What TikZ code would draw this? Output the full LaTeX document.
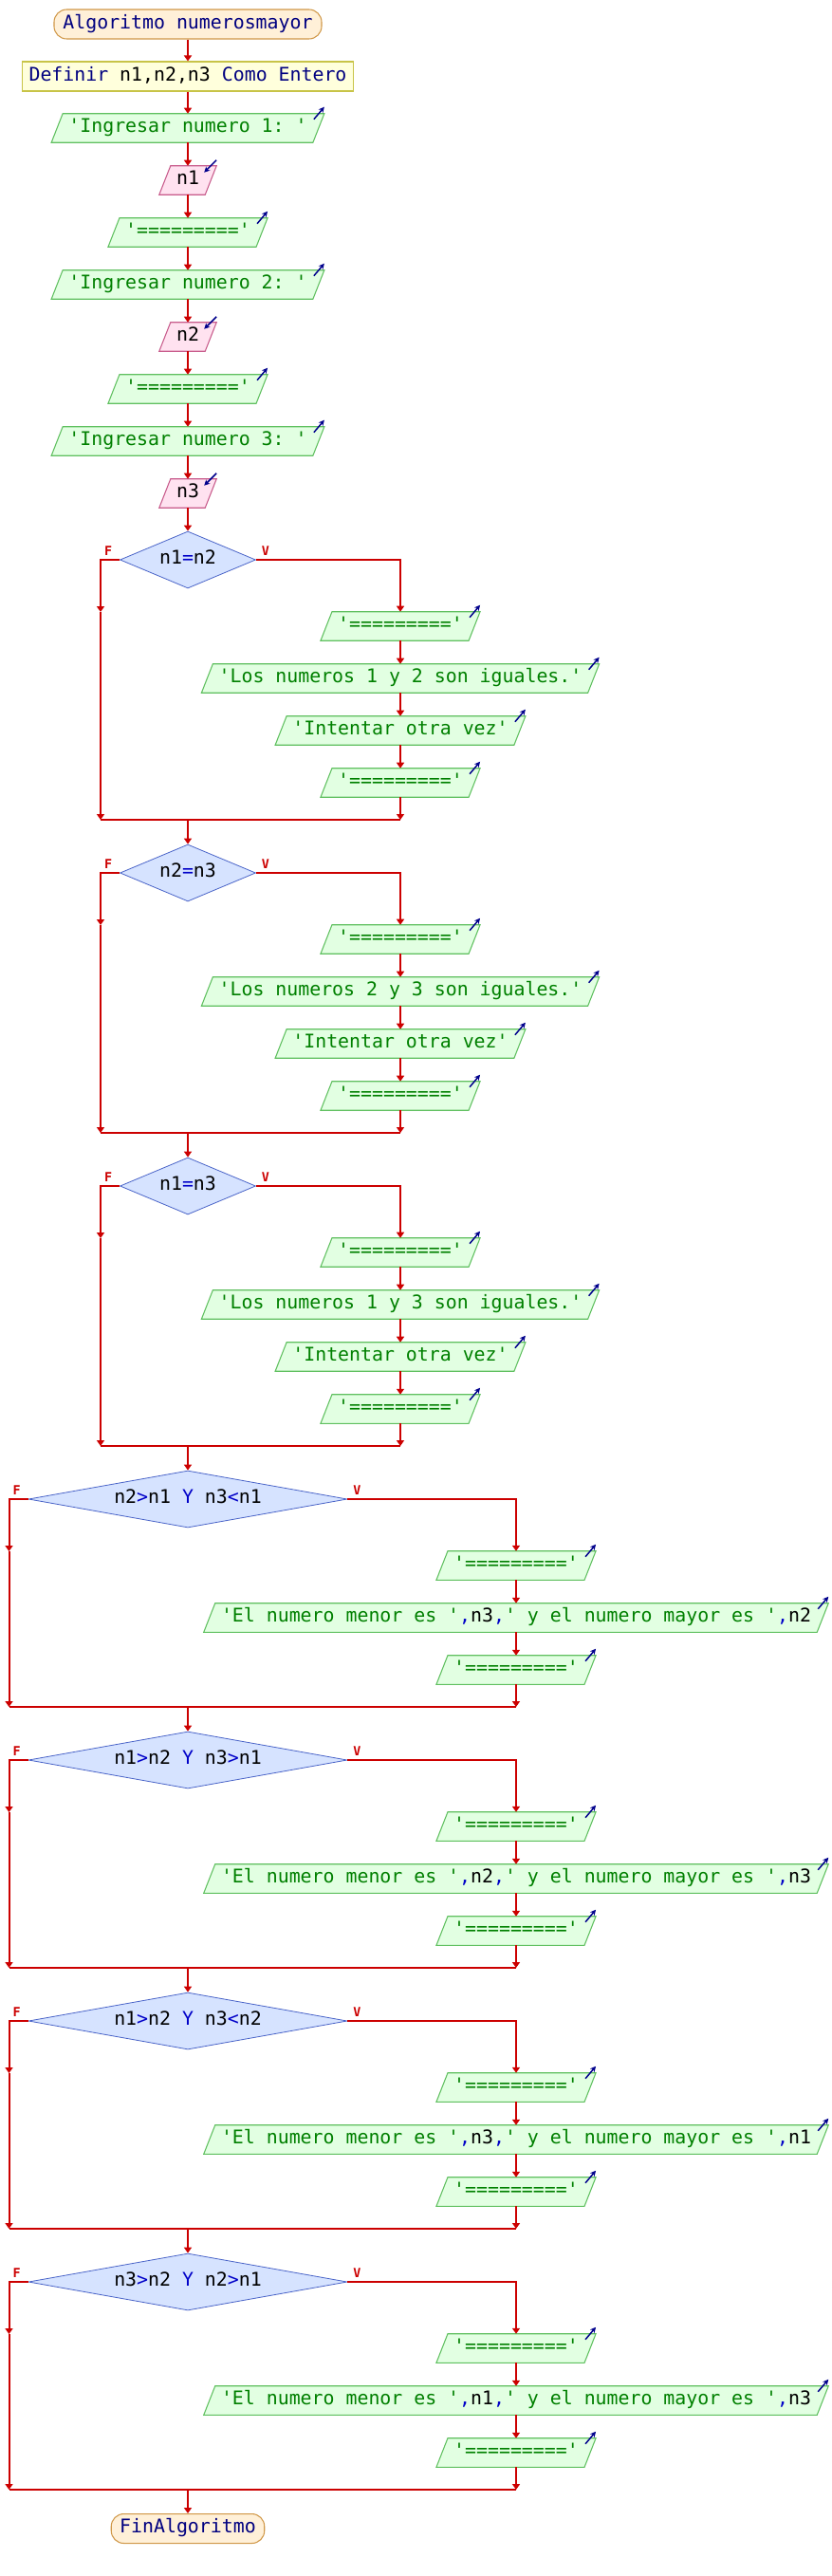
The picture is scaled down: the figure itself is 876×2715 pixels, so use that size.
\documentclass[tikz,border=0pt]{standalone}
\usepackage{fontspec}
\setmonofont{DejaVu Sans Mono}
\usetikzlibrary{shapes.geometric,arrows.meta,calc,backgrounds}
\newdimen\pxu \pxu=0.75pt
\definecolor{flowred}{HTML}{CC0000}
\definecolor{kwnavy}{HTML}{000080}
\definecolor{opblue}{HTML}{0000C8}
\definecolor{icnavy}{HTML}{00008C}
\definecolor{termfill}{HTML}{FFF0D8}
\definecolor{termdraw}{HTML}{D09848}
\definecolor{deffill}{HTML}{FFFFDC}
\definecolor{defdraw}{HTML}{C8C448}
\definecolor{outfill}{HTML}{E2FFE2}
\definecolor{outdraw}{HTML}{60C060}
\definecolor{outtext}{HTML}{008000}
\definecolor{infill}{HTML}{FFE2F0}
\definecolor{indraw}{HTML}{C85C8C}
\definecolor{diafill}{HTML}{D6E3FF}
\definecolor{diadraw}{HTML}{4A64C8}
\newcommand{\pvar}[1]{\textcolor{black}{#1}}
\newcommand{\pcomma}{\textcolor{opblue}{,}}
\newcommand{\pop}[1]{\textcolor{opblue}{#1}}
\begin{document}
\begin{tikzpicture}[x=0.75pt,y=-0.75pt,
  every node/.style={font=\ttfamily\fontsize{14.9pt}{16pt}\selectfont, text height=0.75em, text depth=0.07em},
  term/.style={rectangle, rounded corners=10pt, draw=termdraw, fill=termfill, line width=0.8pt, text=kwnavy, minimum height=31\pxu, inner xsep=9\pxu, inner ysep=0pt},
  defbox/.style={rectangle, draw=defdraw, fill=deffill, line width=0.8pt, text=kwnavy, minimum height=31\pxu, inner xsep=7\pxu, inner ysep=0pt},
  outbox/.style={rectangle, text=outtext, minimum height=30\pxu, inner xsep=12\pxu, inner ysep=0pt},
  inbox/.style={rectangle, text=black, minimum height=30\pxu, inner xsep=12\pxu, inner ysep=0pt},
  cond/.style={diamond, draw=diadraw, fill=diafill, line width=0.6pt, minimum height=60\pxu, inner sep=0pt, text=black},
  flow/.style={draw=flowred, line width=1.5pt, -{Triangle[width=6pt,length=4.5pt]}},
  plain/.style={draw=flowred, line width=1.5pt},
  lbl/.style={text=flowred, font=\ttfamily\bfseries\fontsize{10pt}{12pt}\selectfont},
  icon/.style={draw=icnavy, line width=1.1pt, -{Stealth[length=4.5pt,width=4.5pt]}},
]
\useasboundingbox (0,0) rectangle (876,2715);
\begin{pgfonlayer}{background}
\fill[white] (0,0) rectangle (876,2715);
\end{pgfonlayer}

% main column
\node[term, minimum width=282\pxu] (start) at (198,25.5) {Algoritmo numerosmayor};
\node[defbox, minimum width=348\pxu] (def) at (198,80.5) {Definir \pvar{n1,n2,n3} Como Entero};
\node[outbox] (o1) at (198,135) {'Ingresar numero 1: '};
\node[inbox] (i1) at (198,190) {n1};
\node[outbox] (o2) at (198,245) {'========='};
\node[outbox] (o3) at (198,300) {'Ingresar numero 2: '};
\node[inbox] (i2) at (198,355) {n2};
\node[outbox] (o4) at (198,410) {'========='};
\node[outbox] (o5) at (198,465) {'Ingresar numero 3: '};
\node[inbox] (i3) at (198,520) {n3};

% block 1
\node[cond, aspect=2.383, minimum width=143\pxu] (c1) at (198,590) {n1\pop{=}n2};
\node[outbox] (c1a) at (422,660) {'========='};
\node[outbox] (c1b) at (422,715) {'Los numeros 1 y 2 son iguales.'};
\node[outbox] (c1c) at (422,770) {'Intentar otra vez'};
\node[outbox] (c1d) at (422,825) {'========='};
\coordinate (f1) at (106,645);
\coordinate (j1l) at (106,864);
\coordinate (j1r) at (422,864);
\coordinate (j1) at (198,864);

% block 2
\node[cond, aspect=2.383, minimum width=143\pxu] (c2) at (198,920) {n2\pop{=}n3};
\node[outbox] (c2a) at (422,990) {'========='};
\node[outbox] (c2b) at (422,1045) {'Los numeros 2 y 3 son iguales.'};
\node[outbox] (c2c) at (422,1100) {'Intentar otra vez'};
\node[outbox] (c2d) at (422,1155) {'========='};
\coordinate (f2) at (106,975);
\coordinate (j2l) at (106,1194);
\coordinate (j2r) at (422,1194);
\coordinate (j2) at (198,1194);

% block 3
\node[cond, aspect=2.383, minimum width=143\pxu] (c3) at (198,1250) {n1\pop{=}n3};
\node[outbox] (c3a) at (422,1320) {'========='};
\node[outbox] (c3b) at (422,1375) {'Los numeros 1 y 3 son iguales.'};
\node[outbox] (c3c) at (422,1430) {'Intentar otra vez'};
\node[outbox] (c3d) at (422,1485) {'========='};
\coordinate (f3) at (106,1305);
\coordinate (j3l) at (106,1524);
\coordinate (j3r) at (422,1524);
\coordinate (j3) at (198,1524);

% block 4
\node[cond, aspect=5.6, minimum width=336\pxu] (c4) at (198,1580) {n2\pop{>}n1 \pop{Y} n3\pop{<}n1};
\node[outbox] (c4a) at (544,1650) {'========='};
\node[outbox] (c4b) at (544,1705) {'El numero menor es '\pcomma\pvar{n3}\pcomma' y el numero mayor es '\pcomma\pvar{n2}};
\node[outbox] (c4c) at (544,1760) {'========='};
\coordinate (f4) at (9.5,1635);
\coordinate (j4l) at (9.5,1799);
\coordinate (j4r) at (544,1799);
\coordinate (j4) at (198,1799);

% block 5
\node[cond, aspect=5.6, minimum width=336\pxu] (c5) at (198,1855) {n1\pop{>}n2 \pop{Y} n3\pop{>}n1};
\node[outbox] (c5a) at (544,1925) {'========='};
\node[outbox] (c5b) at (544,1980) {'El numero menor es '\pcomma\pvar{n2}\pcomma' y el numero mayor es '\pcomma\pvar{n3}};
\node[outbox] (c5c) at (544,2035) {'========='};
\coordinate (f5) at (9.5,1910);
\coordinate (j5l) at (9.5,2074);
\coordinate (j5r) at (544,2074);
\coordinate (j5) at (198,2074);

% block 6
\node[cond, aspect=5.6, minimum width=336\pxu] (c6) at (198,2130) {n1\pop{>}n2 \pop{Y} n3\pop{<}n2};
\node[outbox] (c6a) at (544,2200) {'========='};
\node[outbox] (c6b) at (544,2255) {'El numero menor es '\pcomma\pvar{n3}\pcomma' y el numero mayor es '\pcomma\pvar{n1}};
\node[outbox] (c6c) at (544,2310) {'========='};
\coordinate (f6) at (9.5,2185);
\coordinate (j6l) at (9.5,2349);
\coordinate (j6r) at (544,2349);
\coordinate (j6) at (198,2349);

% block 7
\node[cond, aspect=5.6, minimum width=336\pxu] (c7) at (198,2405) {n3\pop{>}n2 \pop{Y} n2\pop{>}n1};
\node[outbox] (c7a) at (544,2475) {'========='};
\node[outbox] (c7b) at (544,2530) {'El numero menor es '\pcomma\pvar{n1}\pcomma' y el numero mayor es '\pcomma\pvar{n3}};
\node[outbox] (c7c) at (544,2585) {'========='};
\coordinate (f7) at (9.5,2460);
\coordinate (j7l) at (9.5,2624);
\coordinate (j7r) at (544,2624);
\coordinate (j7) at (198,2624);

\node[term, minimum width=161\pxu] (end) at (198,2665) {FinAlgoritmo};

% F / V labels
\foreach \c in {c1,c2,c3,c4,c5,c6,c7} {
  \node[lbl] (\c F) at ($(\c.west)+(-12,-9)$) {F};
  \node[lbl] (\c V) at ($(\c.east)+(10,-9)$) {V};
}

% main flow
\draw[flow] (start) -- (def);
\draw[flow] (def) -- (o1);
\draw[flow] (o1) -- (i1);
\draw[flow] (i1) -- (o2);
\draw[flow] (o2) -- (o3);
\draw[flow] (o3) -- (i2);
\draw[flow] (i2) -- (o4);
\draw[flow] (o4) -- (o5);
\draw[flow] (o5) -- (i3);
\draw[flow] (i3) -- (c1);

% if blocks with four outputs
\foreach \c/\n in {c1/1,c2/2,c3/3} {
  \draw[flow] (\c.west) -| (f\n);
  \draw[flow] (f\n) -- (j\n l);
  \draw[flow] (\c.east) -| (\c a);
  \draw[flow] (\c a) -- (\c b);
  \draw[flow] (\c b) -- (\c c);
  \draw[flow] (\c c) -- (\c d);
  \draw[flow] (\c d) -- (j\n r);
  \draw[plain] (j\n l) -- (j\n r);
}
% if blocks with three outputs
\foreach \c/\n in {c4/4,c5/5,c6/6,c7/7} {
  \draw[flow] (\c.west) -| (f\n);
  \draw[flow] (f\n) -- (j\n l);
  \draw[flow] (\c.east) -| (\c a);
  \draw[flow] (\c a) -- (\c b);
  \draw[flow] (\c b) -- (\c c);
  \draw[flow] (\c c) -- (j\n r);
  \draw[plain] (j\n l) -- (j\n r);
}
\draw[flow] (j1) -- (c2);
\draw[flow] (j2) -- (c3);
\draw[flow] (j3) -- (c4);
\draw[flow] (j4) -- (c5);
\draw[flow] (j5) -- (c6);
\draw[flow] (j6) -- (c7);
\draw[flow] (j7) -- (end);

% parallelogram outlines
\begin{pgfonlayer}{background}
\foreach \n in {o1,o2,o3,o4,o5,c1a,c1b,c1c,c1d,c2a,c2b,c2c,c2d,c3a,c3b,c3c,c3d,c4a,c4b,c4c,c5a,c5b,c5c,c6a,c6b,c6c,c7a,c7b,c7c} {
  \draw[draw=outdraw, fill=outfill, line width=0.8pt] ($(\n.south west)+(-6,0)$) -- ($(\n.north west)+(6,0)$) -- ($(\n.north east)+(6,0)$) -- ($(\n.south east)+(-6,0)$) -- cycle;
}
\foreach \n in {i1,i2,i3} {
  \draw[draw=indraw, fill=infill, line width=0.8pt] ($(\n.south west)+(-6,0)$) -- ($(\n.north west)+(6,0)$) -- ($(\n.north east)+(6,0)$) -- ($(\n.south east)+(-6,0)$) -- cycle;
}
\end{pgfonlayer}

% icons
\foreach \n in {o1,o2,o3,o4,o5,c1a,c1b,c1c,c1d,c2a,c2b,c2c,c2d,c3a,c3b,c3c,c3d,c4a,c4b,c4c,c5a,c5b,c5c,c6a,c6b,c6c,c7a,c7b,c7c} {
  \draw[icon] ($(\n.north east)+(-5,6)$) -- ($(\n.north east)+(6,-7)$);
}
\foreach \n in {i1,i2,i3} {
  \draw[icon] ($(\n.north east)+(6,-6)$) -- ($(\n.north east)+(-7,7)$);
}
\end{tikzpicture}
\end{document}
